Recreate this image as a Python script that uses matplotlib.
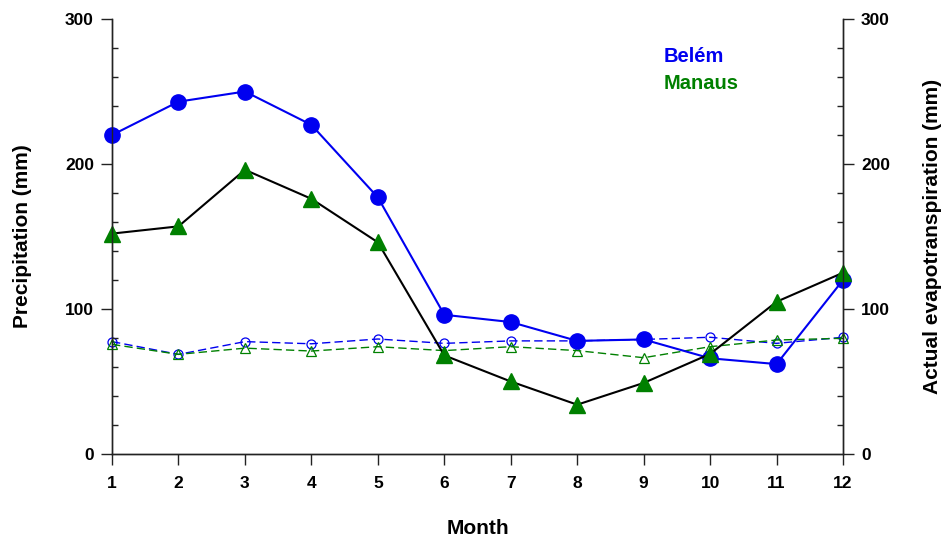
import matplotlib
matplotlib.use("Agg")
import matplotlib.pyplot as plt
from matplotlib.ticker import MultipleLocator

plt.rcParams['font.family'] = ['Liberation Sans', 'DejaVu Sans']
plt.rcParams['font.weight'] = 'bold'

months = list(range(1, 13))
belem_precip = [220, 243, 250, 227, 177, 96, 91, 78, 79, 66, 62, 120]
manaus_precip = [152, 157, 196, 176, 146, 68, 50, 34, 49, 69, 105, 125]
belem_aet = [77.5, 68.7, 77.5, 76, 79.3, 76.3, 78, 78, 79, 80.5, 76.3, 80.5]
manaus_aet = [75.6, 68.7, 73, 71, 74, 71.3, 74, 71.3, 66.4, 74, 78.6, 79.8]
yticks = [0, 100, 200, 300]

BLUE = '#0000f0'
GREEN = '#008000'

fig = plt.figure(figsize=(9.47, 5.42), dpi=100)
ax = fig.add_axes([0.1183, 0.1624, 0.7719, 0.8025])
ax2 = ax.twinx()
ax.set_zorder(ax2.get_zorder() + 1)
ax.patch.set_visible(False)

# evapotranspiration (right axis)
ax2.plot(months, belem_aet, color=BLUE, lw=1.0, ls=(0, (6, 3)), marker='o',
         ms=6.5, mfc='none', mec=BLUE, mew=0.9, clip_on=False)
ax2.plot(months, manaus_aet, color=GREEN, lw=1.0, ls=(0, (6, 3)), marker='^',
         ms=6.5, mfc='none', mec=GREEN, mew=0.9, clip_on=False)

# precipitation (left axis)
ax.plot(months, belem_precip, color=BLUE, lw=1.5, marker='o', ms=11,
        mfc=BLUE, mec=BLUE, clip_on=False)
ax.plot(months, manaus_precip, color='black', lw=1.5, marker='^', ms=12,
        mfc=GREEN, mec=GREEN, clip_on=False)

for a in (ax, ax2):
    a.set_xlim(1, 12)
    a.set_ylim(0, 300)
    a.set_yticks(yticks)
    a.yaxis.set_minor_locator(MultipleLocator(20))
    a.spines['top'].set_visible(False)
    for s in a.spines.values():
        s.set_linewidth(1.0)
        s.set_color('#222222')

ax.set_xticks(months)
ax.tick_params(axis='x', which='major', direction='out', length=8, width=1.0,
               labelsize=12.5, pad=8, color='#222222')
ax.tick_params(axis='y', which='major', direction='out', length=8, width=1.0,
               labelsize=12.5, pad=5, color='#222222')
ax.tick_params(axis='y', which='minor', direction='in', length=4.5, width=1.0,
               color='#222222')
ax2.tick_params(axis='y', which='major', direction='out', length=8, width=1.0,
                labelsize=12.5, pad=5, color='#222222')
ax2.tick_params(axis='y', which='minor', direction='in', length=4.5, width=1.0,
                color='#222222')

ax.set_xlabel('Month', fontsize=15, fontweight='bold', labelpad=20)
ax.set_ylabel('Precipitation (mm)', fontsize=15, fontweight='bold', labelpad=24)
ax2.set_ylabel('Actual evapotranspiration (mm)', fontsize=15, fontweight='bold',
               labelpad=24)

ax.text(0.7545, 0.913, 'Belém', transform=ax.transAxes, color=BLUE,
        fontsize=14.5, fontweight='bold', va='center', ha='left')
ax.text(0.7545, 0.851, 'Manaus', transform=ax.transAxes, color=GREEN,
        fontsize=14.5, fontweight='bold', va='center', ha='left')

fig.savefig('out.png', dpi=100)
